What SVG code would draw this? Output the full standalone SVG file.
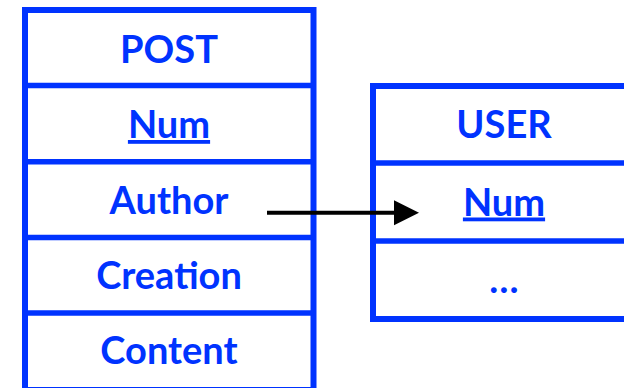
<svg xmlns="http://www.w3.org/2000/svg" width="624" height="388" viewBox="0 0 624 388">
<defs>
<style>
.box{fill:#fff;stroke:#0033ff;stroke-width:6}
.div{stroke:#0033ff;stroke-width:5.5}
.t{font-family:Lato,"Liberation Sans",sans-serif;font-weight:bold;font-size:38px;fill:#0033ff;text-anchor:middle}
.u{text-decoration:underline}
.conn{stroke:#000;stroke-width:4;fill:none}
</style>
<marker id="ah" markerUnits="userSpaceOnUse" markerWidth="26" markerHeight="26" refX="6" refY="12.5" orient="auto">
<path d="M0,0 L25,12.5 L0,25 Z" fill="#000"/>
</marker>
</defs>
<rect width="624" height="388" fill="#fff"/>
<g id="post">
<rect class="box" x="25" y="10" width="288.5" height="380"/>
<line class="div" x1="25" y1="85.5" x2="313.5" y2="85.5"/>
<line class="div" x1="25" y1="161.7" x2="313.5" y2="161.7"/>
<line class="div" x1="25" y1="237.5" x2="313.5" y2="237.5"/>
<line class="div" x1="25" y1="313" x2="313.5" y2="313"/>
<text class="t" x="169" y="62.5">POST</text>
<text class="t u" x="169" y="138">Num</text>
<text class="t" x="169" y="214">Author</text>
<text class="t" x="169" y="289">Creation</text>
<text class="t" x="169" y="364">Content</text>
</g>
<g id="user">
<rect class="box" x="373" y="86" width="270" height="233"/>
<line class="div" x1="373" y1="163" x2="640" y2="163"/>
<line class="div" x1="373" y1="241" x2="640" y2="241"/>
<text class="t" x="504" y="138">USER</text>
<text class="t u" x="504" y="215.5">Num</text>
<text class="t" x="504" y="292.5">…</text>
</g>
<g id="connectors">
<line class="conn" x1="267" y1="212.7" x2="400" y2="212.7" marker-end="url(#ah)"/>
</g>
</svg>
